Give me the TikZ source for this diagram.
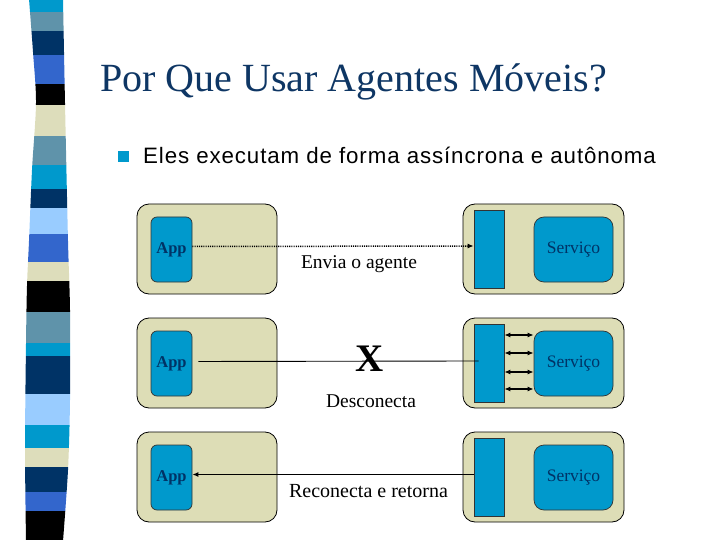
\documentclass[tikz,border=0pt]{standalone}
\usepackage{fontspec}
\setmainfont{Liberation Serif}
\newfontfamily\bulletfont[LetterSpace=4.0]{Liberation Sans}
\usetikzlibrary{arrows.meta}

\definecolor{navy}{RGB}{0,51,102}
\definecolor{titlenavy}{RGB}{14,54,100}
\definecolor{appblue}{RGB}{0,153,204}
\definecolor{steel}{RGB}{95,147,170}
\definecolor{royal}{RGB}{51,102,204}
\definecolor{beige}{RGB}{221,221,187}
\definecolor{skyblue}{RGB}{153,204,255}
\definecolor{hostfill}{RGB}{221,221,182}

\tikzset{
	hostbox/.style={draw=black, line width=0.8pt, fill=hostfill, rounded corners=12pt, inner sep=0pt, minimum height=90pt},
	appbox/.style={draw=black!80, line width=0.7pt, fill=appblue, rounded corners=6pt, inner sep=0pt, minimum width=41pt, minimum height=65pt, text=navy, font=\bfseries\fontsize{16.5}{16}\selectfont},
	barbox/.style={draw=black!80, line width=0.7pt, fill=appblue, inner sep=0pt, minimum width=30pt, minimum height=78pt},
	servbox/.style={draw=black!80, line width=0.7pt, fill=appblue, rounded corners=10pt, inner sep=0pt, minimum width=79pt, minimum height=65pt, text=navy, font=\fontsize{17.5}{17}\selectfont},
	msg/.style={anchor=base, inner sep=0pt, font=\fontsize{19.5}{20}\selectfont},
	agtip/.tip={Latex[length=6pt,width=5pt]}
}

\begin{document}
\begin{tikzpicture}[x=1pt,y=-1pt]
		%%%%% START %%%%%
		\useasboundingbox (0,0) rectangle (720,540);
		
		% striped band on the left
		\begin{scope}
			\clip plot[smooth] coordinates {(29,-1) (33,52) (36,103) (32,170) (29,241) (27,286) (26,344) (25,448) (26,541)}
				-- plot[smooth] coordinates {(63,541) (68,470) (70,400) (70,310) (68,241) (65,103) (63,-1)} -- cycle;
			\foreach \ya/\yb/\col in {-1/12/appblue, 12/31/steel, 31/55/navy, 55/84/royal, 84/105/black,
				105/136/beige, 136/165/steel, 165/189/appblue, 189/208/navy, 208/234/skyblue, 234/262/royal,
				262/281/beige, 281/312/black, 312/343/steel, 343/356/appblue, 356/394/navy, 394/425/skyblue,
				425/448/appblue, 448/467/beige, 467/492/navy, 492/511/royal, 511/541/black}
				\fill[\col] (0,\ya) rectangle (100,\yb+0.4);
		\end{scope}
		
		% title and bullet
		\node[anchor=base west, inner sep=0pt, text=titlenavy, font=\fontsize{40}{40}\selectfont] (title) at (100,92) {Por Que Usar Agentes Móveis?};
		\fill[appblue] (118,151) rectangle (129,162);
		\node[anchor=base west, inner sep=0pt, font=\bulletfont\fontsize{22.3}{22}\selectfont] (point) at (143,164) {Eles executam de forma assíncrona e autônoma};
		
		% row 1: send the agent
		\node[hostbox, minimum width=140pt] (hostA) at (207,249) {};
		\node[hostbox, minimum width=161pt] (servhostA) at (543.5,249) {};
		\node[appbox] (appA) at (171.5,249.5) {App};
		\node[barbox] (barA) at (489,249) {};
		\node[servbox] (servA) at (573.5,249.5) {Serviço};
		\draw[line width=1.5pt, dash pattern=on 1.1pt off 1.1pt, -agtip] ([yshift=3pt]appA.east) -- ([yshift=3pt]barA.west);
		\node[msg] (sendmsg) at (359,268) {Envia o agente};
		
		% row 2: disconnect
		\node[hostbox, minimum width=140pt] (hostB) at (207,363) {};
		\node[hostbox, minimum width=161pt] (servhostB) at (543.5,363) {};
		\node[appbox] (appB) at (171.5,363.5) {App};
		\node[barbox] (barB) at (489,363) {};
		\node[servbox] (servB) at (573.5,363.5) {Serviço};
		\draw[line width=0.9pt, shorten <=6pt, shorten >=-5pt] ([yshift=2pt]appB.east) -- ([yshift=2pt]barB.west);
		\foreach \dy in {28,10,-9,-26}
			\draw[line width=1.6pt, agtip-agtip] ([yshift=\dy pt]barB.east) -- ([yshift=\dy pt]barB.east -| servB.west);
		\node[anchor=base, inner sep=0pt, font=\bfseries\fontsize{39}{40}\selectfont] (cut) at (369.5,371) {X};
		\node[msg] (dropmsg) at (371,407) {Desconecta};
		
		% row 3: reconnect and return
		\node[hostbox, minimum width=140pt] (hostC) at (207,477) {};
		\node[hostbox, minimum width=161pt] (servhostC) at (543.5,477) {};
		\node[appbox] (appC) at (171.5,477.5) {App};
		\node[barbox] (barC) at (489,477.5) {};
		\node[servbox] (servC) at (573.5,477.5) {Serviço};
		\draw[line width=1.8pt, -agtip] ([yshift=3pt]barC.west) -- ([yshift=3pt]appC.east);
		\node[msg, font=\fontsize{20}{20}\selectfont] (backmsg) at (368.5,497) {Reconecta e retorna};
		%%%%% END %%%%%
\end{tikzpicture}
\end{document}
